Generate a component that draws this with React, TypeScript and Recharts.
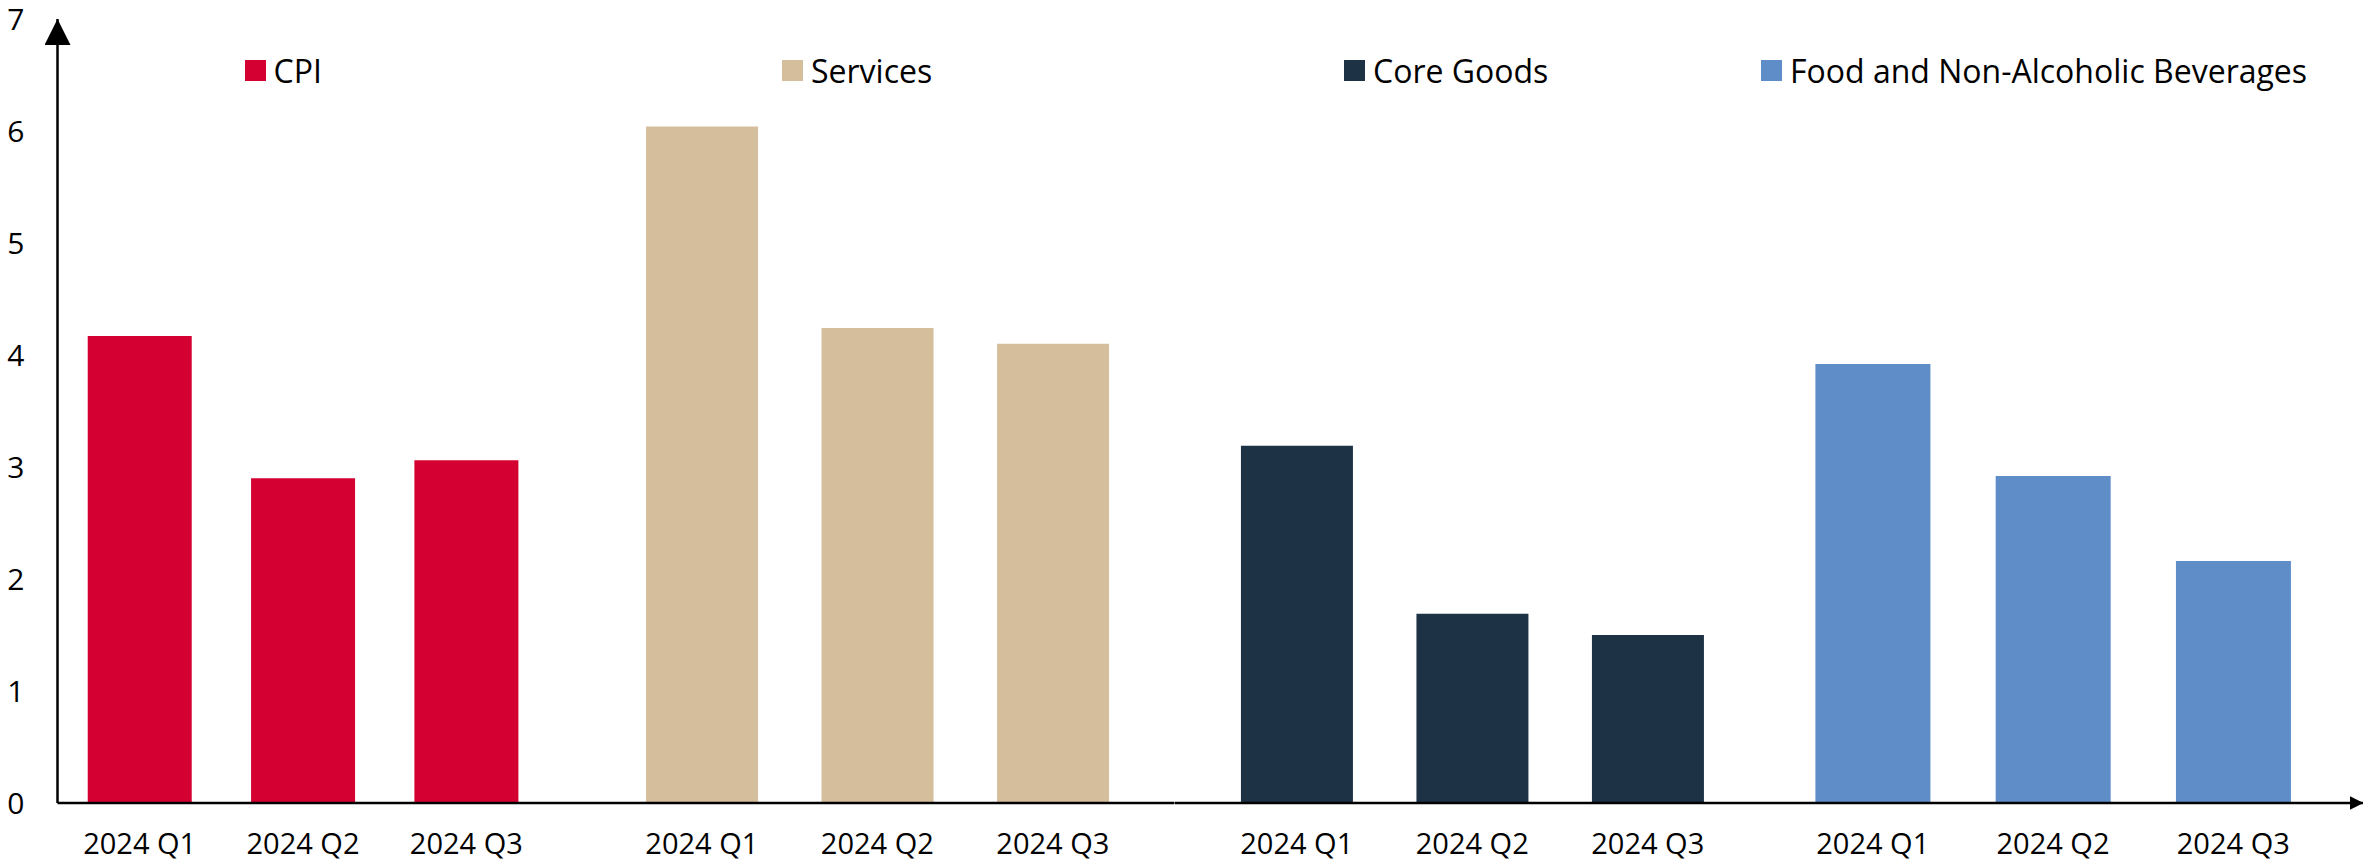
import React from 'react';
import { BarChart, Bar, XAxis, YAxis, Legend } from 'recharts';

// ---- data ----
const quarters = ['2024 Q1', '2024 Q2', '2024 Q3'];
const cpiValues = [4.17, 2.9, 3.06];
const servicesValues = [6.04, 4.24, 4.1];
const coreGoodsValues = [3.19, 1.69, 1.5];
const foodValues = [3.92, 2.92, 2.16];
const yTicks = [0, 1, 2, 3, 4, 5, 6, 7];
const seriesNames = ['CPI', 'Services', 'Core Goods', 'Food and Non-Alcoholic Beverages'];
const seriesValues = [cpiValues, servicesValues, coreGoodsValues, foodValues];
const seriesColors = ['#D50032', '#D5BE9B', '#1E3246', '#5E8DC7'];

// ---- layout (one panel per series group) ----
const FONT = '"Open Sans", sans-serif';
const CHART_H = 866;
const panelLayout = [
  { left: 0, width: 581, yAxis: true, padL: 0.5, padR: 33, legendLeft: 244.5, last: false },
  { left: 581, width: 593.5, yAxis: false, padL: 33.1, padR: 33.9, legendLeft: 201, last: false },
  { left: 1174.5, width: 584, yAxis: false, padL: 34, padR: 23.5, legendLeft: 169.5, last: false },
  { left: 1758.5, width: 604.5, yAxis: false, padL: 23.6, padR: 40.1, legendLeft: 2.5, last: true },
];

const renderLegend = (props: any) => {
  const item = props && props.payload && props.payload[0];
  if (!item) return null;
  return (
    <div
      style={{
        display: 'flex',
        alignItems: 'center',
        height: 31,
        whiteSpace: 'nowrap',
        fontFamily: FONT,
        fontSize: 32,
        lineHeight: '31px',
        color: '#000',
      }}
    >
      <span
        style={{
          display: 'inline-block',
          width: 21,
          height: 21,
          background: item.color,
          marginRight: 8,
        }}
      />
      <span>{item.value}</span>
    </div>
  );
};

function Panel({ idx }: { idx: number }) {
  const cfg = panelLayout[idx];
  const values = seriesValues[idx];
  const data = quarters.map((q, i) => ({ quarter: q, value: values[i] }));
  return (
    <div style={{ position: 'absolute', left: cfg.left, top: 0 }}>
      <BarChart
        width={cfg.width}
        height={CHART_H}
        data={data}
        margin={{ top: 19, right: 0, bottom: 0, left: 0 }}
        barCategoryGap="18.2%"
      >
        <YAxis
          type="number"
          hide={!cfg.yAxis}
          domain={[0, 7]}
          ticks={yTicks}
          interval={0}
          allowDataOverflow
          width={57.5}
          tickLine={false}
          tickSize={0}
          tickMargin={33}
          axisLine={{ stroke: '#000', strokeWidth: 2.5, markerStart: 'url(#yArrow)' } as any}
          tick={{ fill: '#000', fontSize: 30, fontFamily: FONT }}
        />
        <Bar dataKey="value" name={seriesNames[idx]} fill={seriesColors[idx]} isAnimationActive={false} />
        <XAxis
          dataKey="quarter"
          type="category"
          height={63}
          interval={0}
          padding={{ left: cfg.padL, right: cfg.padR }}
          tickLine={false}
          tickSize={0}
          tickMargin={30}
          axisLine={
            (cfg.last
              ? { stroke: '#000', strokeWidth: 2.5, markerEnd: 'url(#xArrow)' }
              : { stroke: '#000', strokeWidth: 2.5 }) as any
          }
          tick={{ fill: '#000', fontSize: 29, fontFamily: FONT }}
        />
        <Legend
          verticalAlign="middle"
          align="center"
          layout="horizontal"
          wrapperStyle={{ top: 55, left: cfg.legendLeft, width: 'auto', height: 31 }}
          content={renderLegend}
        />
      </BarChart>
    </div>
  );
}

export default function App() {
  return (
    <div
      style={{
        position: 'absolute',
        left: 0,
        top: 0,
        width: 2364,
        height: CHART_H,
        background: '#fff',
        fontFamily: FONT,
        overflow: 'hidden',
      }}
    >
      <svg width={0} height={0} style={{ position: 'absolute' }}>
        <defs>
          <marker
            id="yArrow"
            markerUnits="userSpaceOnUse"
            markerWidth={26}
            markerHeight={26}
            refX={26}
            refY={13}
            orient="auto-start-reverse"
          >
            <path d="M0,0 L26,13 L0,26 Z" fill="#000" />
          </marker>
          <marker
            id="xArrow"
            markerUnits="userSpaceOnUse"
            markerWidth={14}
            markerHeight={14}
            refX={14}
            refY={7}
            orient="auto"
          >
            <path d="M0,0 L14,7 L0,14 Z" fill="#000" />
          </marker>
        </defs>
      </svg>
      {seriesNames.map((_, i) => (
        <Panel key={i} idx={i} />
      ))}
    </div>
  );
}
